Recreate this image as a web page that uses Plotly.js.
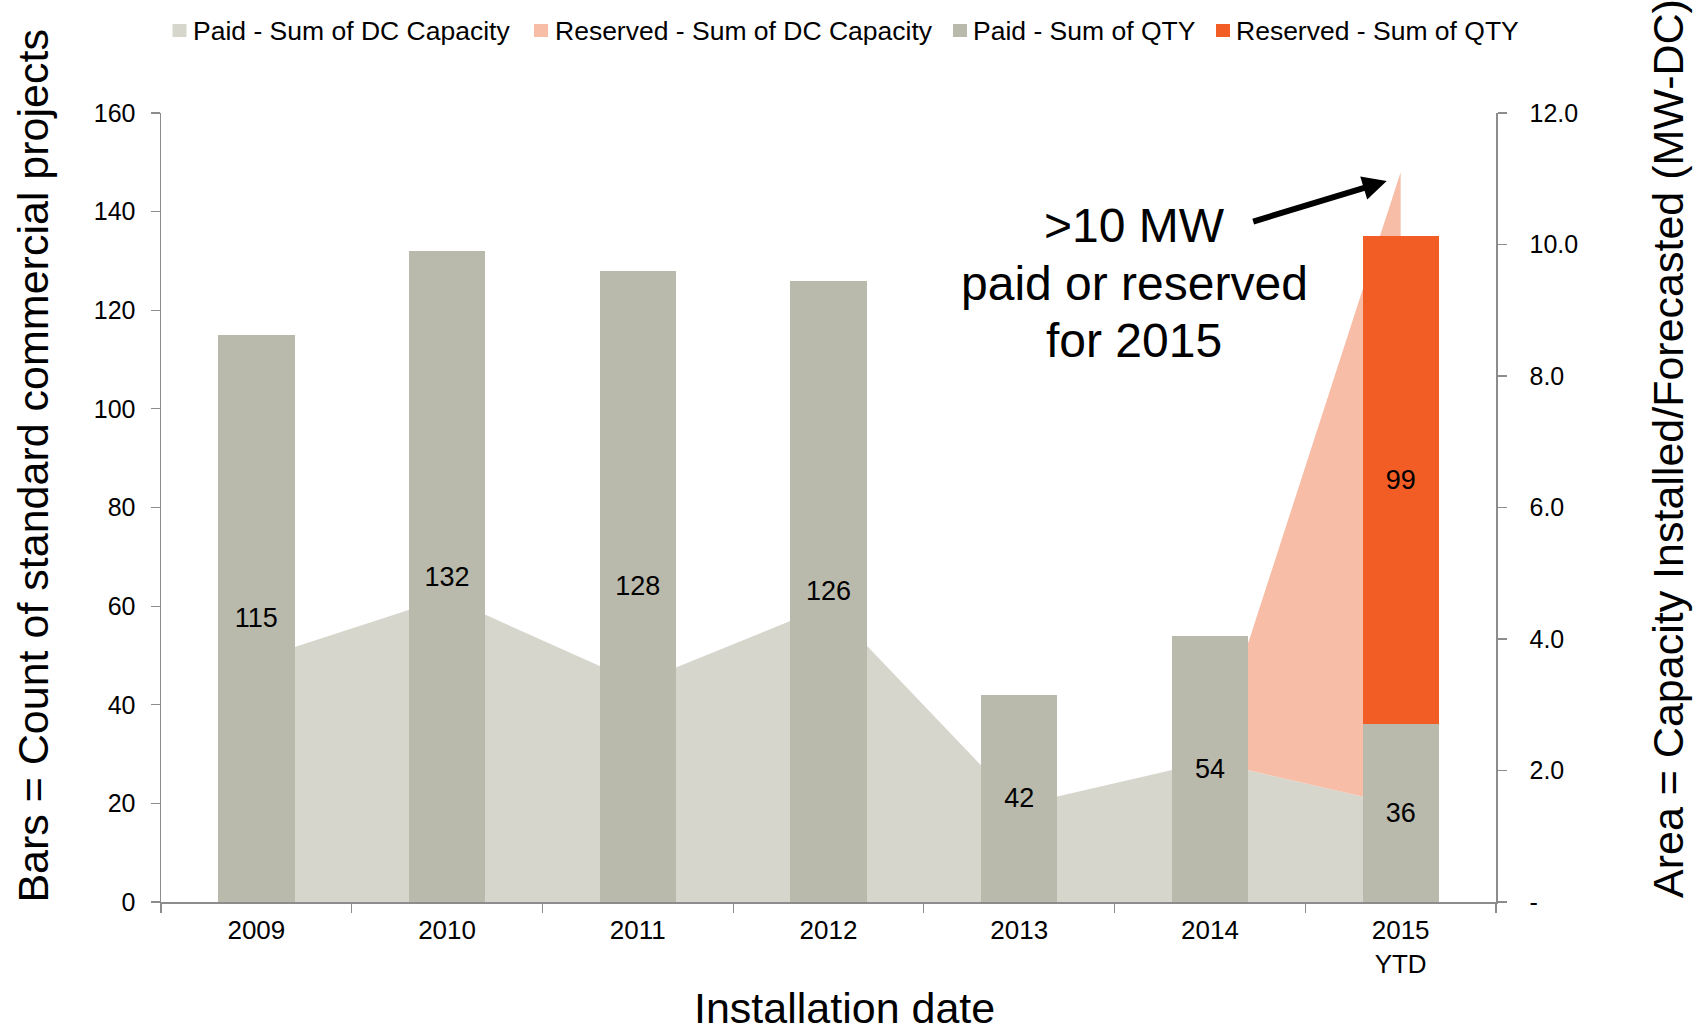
<!DOCTYPE html>
<html>
<head>
<meta charset="utf-8">
<script src="https://cdn.plot.ly/plotly-3.0.1.min.js"></script>
<style>
  html, body { margin: 0; padding: 0; background: #fff; }
  #chart { width: 1704px; height: 1035px; }
</style>
</head>
<body>
<div id="chart"></div>
<script>
// ---- data ----
const years = ['2009', '2010', '2011', '2012', '2013', '2014', '2015<br>YTD'];
const paidCapacity = [3.69, 4.63, 3.33, 4.51, 1.47, 2.14, 1.47];      // MW-DC
const reservedCapacity = [0, 0, 0, 0, 0, 0, 9.63];                  // MW-DC (stacked on paid)
const paidQty = [115, 132, 128, 126, 42, 54, 36];                   // projects
const reservedQty = [null, null, null, null, null, null, 99];       // projects
const capTickVals = [0, 2, 4, 6, 8, 10, 12];
const capTickText = ['-', '2.0', '4.0', '6.0', '8.0', '10.0', '12.0'];
const seriesNames = ['Paid - Sum of DC Capacity', 'Reserved - Sum of DC Capacity',
                     'Paid - Sum of QTY', 'Reserved - Sum of QTY'];
const calloutLines = ['>10 MW', 'paid or reserved', 'for 2015'];

const FONT = 'Liberation Sans, Arial, Helvetica, sans-serif';
const C_PAID_AREA = '#D6D6CD';
const C_RES_AREA = '#F8BDA7';
const C_PAID_BAR = '#B9B9AC';
const C_RES_BAR = '#F15D24';
const AXIS_GRAY = '#8C8C8C';
const seriesColors = [C_PAID_AREA, C_RES_AREA, C_PAID_BAR, C_RES_BAR];

const traces = [
  {
    type: 'scatter', name: seriesNames[0],
    x: years, y: paidCapacity, xaxis: 'x', yaxis: 'y',
    stackgroup: 'cap', mode: 'none', fillcolor: C_PAID_AREA,
    hoverinfo: 'skip', showlegend: false
  },
  {
    type: 'scatter', name: seriesNames[1],
    x: years, y: reservedCapacity, xaxis: 'x', yaxis: 'y',
    stackgroup: 'cap', mode: 'none', fillcolor: C_RES_AREA,
    hoverinfo: 'skip', showlegend: false
  },
  {
    type: 'bar', name: seriesNames[2],
    x: years, y: paidQty, xaxis: 'x', yaxis: 'y2',
    width: 0.4, marker: { color: C_PAID_BAR, line: { width: 0 } },
    text: paidQty.map(String), textposition: 'inside', insidetextanchor: 'middle',
    textangle: 0, insidetextfont: { family: FONT, size: 27, color: '#000' },
    constraintext: 'none', hoverinfo: 'skip', showlegend: false
  },
  {
    type: 'bar', name: seriesNames[3],
    x: years, y: reservedQty, xaxis: 'x', yaxis: 'y2',
    width: 0.4, marker: { color: C_RES_BAR, line: { width: 0 } },
    text: reservedQty.map(v => v == null ? '' : String(v)), textposition: 'inside', insidetextanchor: 'middle',
    textangle: 0, insidetextfont: { family: FONT, size: 27, color: '#000' },
    constraintext: 'none', hoverinfo: 'skip', showlegend: false
  }
];

// Plot area geometry (px) used to place the legend row and callouts
const M = { l: 161, r: 208, t: 113, b: 133 };
const W = 1704, H = 1035;
const PW = W - M.l - M.r, PH = H - M.t - M.b;
const px2x = X => (X - M.l) / PW;
const px2y = Y => (H - M.b - Y) / PH;

// Legend row (squares + labels) like the original slide legend
const legendSquareX = [172.5, 534, 953, 1216];
const legendTextX = [191, 553, 970.5, 1234];
const legendShapes = seriesNames.map((n, i) => ({
  type: 'rect', xref: 'paper', yref: 'paper', layer: 'above',
  x0: px2x(legendSquareX[i]), x1: px2x(legendSquareX[i] + 14),
  y0: px2y(37), y1: px2y(24),
  fillcolor: seriesColors[i], line: { width: 0 }
}));
const legendLabels = seriesNames.map((n, i) => ({
  text: n, xref: 'paper', yref: 'paper',
  x: px2x(legendTextX[i]), y: px2y(30.5),
  xanchor: 'left', yanchor: 'middle', showarrow: false,
  font: { family: FONT, size: 26.5, color: '#000' }
}));

const calloutY = [225, 283.6, 340.1];
const callouts = calloutLines.map((t, i) => ({
  text: t, xref: 'paper', yref: 'paper', x: px2x(1134), y: px2y(calloutY[i]),
  xanchor: 'center', yanchor: 'middle', showarrow: false,
  font: { family: FONT, size: 48, color: '#000' }
}));

const layout = {
  width: W, height: H,
  margin: { l: M.l, r: M.r, t: M.t, b: M.b, pad: 0 },
  paper_bgcolor: '#fff', plot_bgcolor: '#fff',
  font: { family: FONT, color: '#000', size: 26 },
  barmode: 'stack',
  hovermode: false,
  showlegend: false,
  xaxis: {
    type: 'category', range: [-0.5, 6.5],
    showline: true, linecolor: AXIS_GRAY, linewidth: 1.5,
    ticks: 'outside', tickson: 'boundaries', ticklen: 9, tickcolor: AXIS_GRAY, tickwidth: 1.2,
    ticklabelstandoff: 4,
    tickfont: { family: FONT, size: 26, color: '#000' },
    showgrid: false, zeroline: false, fixedrange: true
  },
  yaxis: {
    side: 'right', range: [0, 12],
    tickvals: capTickVals, ticktext: capTickText,
    showline: true, linecolor: AXIS_GRAY, linewidth: 1.5,
    ticks: 'outside', ticklen: 9, tickcolor: AXIS_GRAY, tickwidth: 1.2,
    ticklabelstandoff: 18,
    tickfont: { family: FONT, size: 25, color: '#000' },
    showgrid: false, zeroline: false, fixedrange: true
  },
  yaxis2: {
    overlaying: 'y', side: 'left', range: [0, 160], dtick: 20, tick0: 0,
    showline: true, linecolor: AXIS_GRAY, linewidth: 1.5,
    ticks: 'outside', ticklen: 9, tickcolor: AXIS_GRAY, tickwidth: 1.2,
    ticklabelstandoff: 10,
    tickfont: { family: FONT, size: 25, color: '#000' },
    showgrid: false, zeroline: false, fixedrange: true
  },
  shapes: legendShapes,
  annotations: [
    {
      text: 'Bars = Count of standard commercial projects',
      xref: 'paper', yref: 'paper', x: px2x(32.6), y: px2y(466),
      xanchor: 'center', yanchor: 'middle', textangle: -90, showarrow: false,
      font: { family: FONT, size: 43, color: '#000' }
    },
    {
      text: 'Area = Capacity Installed/Forecasted (MW-DC)',
      xref: 'paper', yref: 'paper', x: px2x(1668), y: px2y(449),
      xanchor: 'center', yanchor: 'middle', textangle: -90, showarrow: false,
      font: { family: FONT, size: 43, color: '#000' }
    },
    {
      text: 'Installation date',
      xref: 'paper', yref: 'paper', x: px2x(844), y: px2y(1034),
      xanchor: 'center', yanchor: 'bottom', showarrow: false,
      font: { family: FONT, size: 43, color: '#000' }
    },
    {
      text: '', xref: 'paper', yref: 'paper', x: px2x(1386.7), y: px2y(181),
      showarrow: true, axref: 'pixel', ayref: 'pixel', ax: -135, ay: 41,
      arrowhead: 2, arrowsize: 0.8, arrowwidth: 6, arrowcolor: '#000', standoff: 0
    }
  ].concat(callouts, legendLabels)
};

Plotly.newPlot('chart', traces, layout, { displayModeBar: false, staticPlot: true });
</script>
</body>
</html>
